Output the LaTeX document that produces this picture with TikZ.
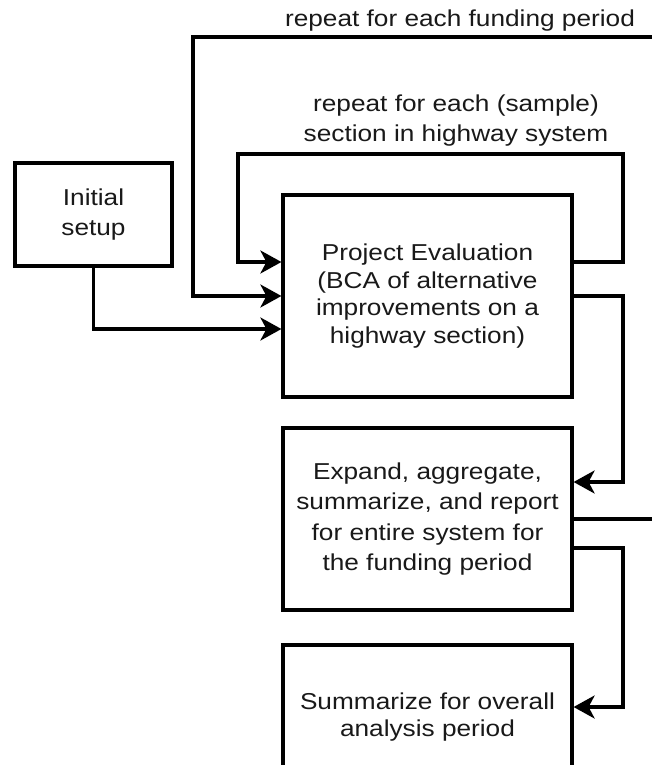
\documentclass[tikz,border=0pt]{standalone}
\usepackage{fontspec}
\setmainfont{Liberation Sans}[FakeStretch=1.14]
\usetikzlibrary{arrows.meta}
\begin{document}
\begin{tikzpicture}[x=1pt,y=-1pt,
  box/.style={draw, line width=3.2pt, align=center, inner sep=0pt, text=black!90},
  conn/.style={line width=3.2pt},
  arr/.style={conn, -{Stealth[length=21pt,width=23pt,inset=6pt]}},
  lbl/.style={text=black!90, align=center, inner sep=0pt, font=\fontsize{23}{30}\selectfont}]
\useasboundingbox (0,0) rectangle (652,765);
\fill[white] (0,0) rectangle (652,765);
\clip (0,0) rectangle (652,765);

% boxes
\node[box, minimum width=157pt, minimum height=103pt, font=\fontsize{23}{30}\selectfont] (setup) at (93.5,214.5) {\raisebox{-4pt}{\begin{tabular}{@{}c@{}}Initial\\setup\end{tabular}}};
\node[box, minimum width=289pt, minimum height=202pt, font=\fontsize{23}{27.5}\selectfont] (pe) at (427.5,296) {Project Evaluation\\(BCA of alternative\\improvements on a\\highway section)};
\node[box, minimum width=289pt, minimum height=182pt, font=\fontsize{23}{30.5}\selectfont] (exp) at (427.5,519) {Expand, aggregate,\\summarize, and report\\for entire system for\\the funding period};
\node[box, minimum width=289pt, minimum height=145pt, font=\fontsize{23}{27}\selectfont] (sum) at (427.5,717.5) {Summarize for overall\\analysis period};

% labels
\node[lbl, anchor=base] (lfund) at (460,27) {repeat for each funding period};
\node[lbl] (lsec) at (456,121) {repeat for each (sample)\\section in highway system};

% loop corner points
\coordinate (a1) at (623,262);
\coordinate (a2) at (623,154);
\coordinate (a3) at (238,154);
\coordinate (b1) at (670,519);
\coordinate (b2) at (670,37);
\coordinate (b3) at (193,37);
\coordinate (c1) at (623,296);
\coordinate (d1) at (623,548);

% connectors
\draw[arr] (setup.south) |- (pe.west |- 0,329);
\draw[arr] (pe.east |- a1) -- (a1) -- (a2) -- (a3) |- (pe.west |- a1);
\draw[arr] (exp.east) -- (b1) -- (b2) -- (b3) |- (pe.west);
\draw[arr] (pe.east) -- (c1) |- (exp.east |- 0,482);
\draw[arr] (exp.east |- d1) -- (d1) |- (sum.east |- 0,707);
\end{tikzpicture}
\end{document}
